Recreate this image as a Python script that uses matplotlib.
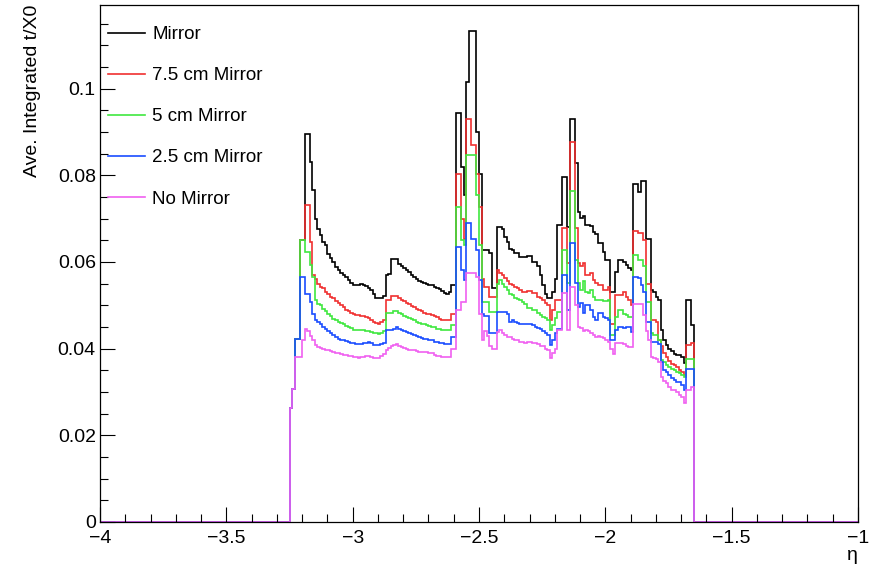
import numpy as np
import matplotlib
matplotlib.use("Agg")
import matplotlib.pyplot as plt
from matplotlib.lines import Line2D
from matplotlib.ticker import MultipleLocator, FuncFormatter

plt.rcParams['font.family'] = ['Liberation Sans', 'DejaVu Sans']

# eta binning of the histograms (all bins outside the filled range are empty)
eta_min, eta_max, bin_width = -4.0, -1.0, 0.01
filled_from = -3.25

labels = ["Mirror", "7.5 cm Mirror", "5 cm Mirror", "2.5 cm Mirror", "No Mirror"]
colors = ["#000000", "#f03030", "#3fe83f", "#1a4dff", "#f060f0"]

# average integrated t/X0 per bin, from eta = -3.25 to -1.65
mirror = [
    .0262, .0308, .0423, .0423, .0650, .0650, .0896, .0896, .0831, .0766,
    .0700, .0677, .0662, .0645, .0639, .0619, .0610, .0600, .0589, .0581,
    .0575, .0570, .0566, .0558, .0552, .0548, .0546, .0546, .0550, .0548,
    .0544, .0540, .0536, .0527, .0518, .0516, .0517, .0521, .0569, .0572,
    .0606, .0606, .0606, .0595, .0590, .0585, .0581, .0576, .0571, .0566,
    .0561, .0557, .0554, .0552, .0550, .0548, .0546, .0542, .0540, .0537,
    .0532, .0529, .0527, .0530, .0547, .0547, .0944, .0944, .0820, .0754,
    .1016, .1133, .1133, .1133, .0900, .0804, .0627, .0627, .0627, .0620,
    .0539, .0539, .0681, .0681, .0677, .0658, .0646, .0631, .0627, .0620,
    .0620, .0612, .0612, .0612, .0613, .0613, .0601, .0601, .0590, .0570,
    .0547, .0525, .0516, .0516, .0530, .0560, .0686, .0686, .0797, .0797,
    .0680, .0929, .0929, .0828, .0716, .0701, .0705, .0686, .0686, .0682,
    .0670, .0665, .0643, .0643, .0624, .0604, .0604, .0530, .0530, .0577,
    .0604, .0604, .0600, .0592, .0585, .0581, .0780, .0780, .0762, .0787,
    .0787, .0654, .0654, .0535, .0531, .0520, .0512, .0443, .0420, .0408,
    .0400, .0395, .0388, .0385, .0385, .0380, .0366, .0512, .0512, .0454,
]
mirror_75 = [
    .0262, .0308, .0423, .0423, .0650, .0650, .0731, .0731, .0646, .0569,
    .0560, .0550, .0543, .0539, .0530, .0527, .0520, .0516, .0510, .0505,
    .0500, .0495, .0490, .0487, .0483, .0480, .0478, .0477, .0476, .0475,
    .0473, .0471, .0466, .0462, .0459, .0458, .0461, .0466, .0512, .0512,
    .0521, .0521, .0521, .0516, .0513, .0509, .0506, .0502, .0499, .0496,
    .0492, .0489, .0486, .0483, .0480, .0479, .0477, .0475, .0472, .0469,
    .0467, .0466, .0466, .0466, .0481, .0481, .0804, .0804, .0700, .0654,
    .0931, .0931, .0870, .0870, .0804, .0727, .0560, .0543, .0543, .0520,
    .0520, .0520, .0581, .0575, .0570, .0562, .0556, .0550, .0547, .0542,
    .0539, .0535, .0531, .0531, .0532, .0532, .0528, .0528, .0520, .0518,
    .0513, .0505, .0501, .0466, .0490, .0513, .0513, .0513, .0678, .0678,
    .0597, .0878, .0878, .0678, .0597, .0590, .0597, .0570, .0570, .0574,
    .0558, .0551, .0547, .0547, .0536, .0536, .0543, .0458, .0458, .0524,
    .0524, .0524, .0531, .0520, .0512, .0500, .0672, .0672, .0666, .0666,
    .0650, .0550, .0550, .0466, .0466, .0462, .0420, .0405, .0390, .0380,
    .0372, .0365, .0362, .0358, .0350, .0346, .0340, .0408, .0408, .0412,
]
mirror_5 = [
    .0262, .0308, .0423, .0423, .0650, .0650, .0623, .0623, .0592, .0566,
    .0512, .0504, .0500, .0492, .0487, .0481, .0475, .0469, .0466, .0462,
    .0460, .0458, .0452, .0450, .0447, .0444, .0443, .0442, .0443, .0444,
    .0441, .0440, .0438, .0436, .0435, .0433, .0437, .0441, .0483, .0483,
    .0483, .0486, .0486, .0483, .0479, .0476, .0473, .0471, .0469, .0466,
    .0462, .0459, .0457, .0456, .0454, .0452, .0451, .0449, .0446, .0445,
    .0443, .0442, .0442, .0442, .0454, .0454, .0727, .0727, .0650, .0640,
    .0847, .0847, .0847, .0847, .0754, .0640, .0508, .0508, .0508, .0485,
    .0485, .0485, .0550, .0558, .0550, .0542, .0535, .0527, .0523, .0518,
    .0515, .0512, .0508, .0504, .0494, .0494, .0490, .0489, .0482, .0478,
    .0474, .0470, .0466, .0443, .0455, .0470, .0485, .0485, .0628, .0628,
    .0551, .0763, .0763, .0605, .0551, .0536, .0555, .0530, .0528, .0535,
    .0520, .0513, .0513, .0513, .0509, .0509, .0512, .0431, .0431, .0474,
    .0489, .0489, .0481, .0478, .0474, .0474, .0616, .0616, .0604, .0604,
    .0590, .0508, .0508, .0435, .0431, .0431, .0420, .0373, .0370, .0362,
    .0358, .0354, .0350, .0347, .0343, .0340, .0335, .0377, .0377, .0377,
]
mirror_25 = [
    .0262, .0308, .0423, .0423, .0566, .0566, .0527, .0527, .0508, .0481,
    .0467, .0462, .0458, .0450, .0445, .0440, .0435, .0431, .0428, .0423,
    .0421, .0420, .0418, .0416, .0414, .0412, .0411, .0410, .0411, .0412,
    .0414, .0416, .0412, .0409, .0408, .0408, .0411, .0414, .0442, .0444,
    .0444, .0446, .0449, .0446, .0444, .0440, .0438, .0435, .0433, .0431,
    .0429, .0426, .0425, .0423, .0422, .0420, .0419, .0416, .0415, .0413,
    .0412, .0410, .0410, .0410, .0427, .0427, .0635, .0635, .0581, .0558,
    .0689, .0689, .0654, .0654, .0627, .0558, .0481, .0475, .0475, .0435,
    .0435, .0435, .0485, .0485, .0485, .0485, .0480, .0462, .0465, .0462,
    .0460, .0458, .0458, .0456, .0458, .0458, .0455, .0451, .0448, .0445,
    .0441, .0435, .0432, .0409, .0420, .0435, .0445, .0445, .0570, .0570,
    .0489, .0643, .0643, .0551, .0497, .0505, .0482, .0500, .0500, .0490,
    .0474, .0466, .0482, .0482, .0474, .0470, .0466, .0420, .0420, .0443,
    .0450, .0450, .0447, .0450, .0450, .0439, .0566, .0566, .0562, .0547,
    .0530, .0462, .0462, .0416, .0416, .0416, .0410, .0370, .0350, .0345,
    .0340, .0332, .0328, .0324, .0322, .0315, .0304, .0354, .0354, .0354,
]
no_mirror = [
    .0262, .0308, .0381, .0381, .0381, .0419, .0446, .0441, .0430, .0419,
    .0408, .0404, .0402, .0400, .0397, .0396, .0394, .0393, .0390, .0389,
    .0387, .0386, .0385, .0384, .0382, .0381, .0380, .0379, .0380, .0381,
    .0382, .0382, .0380, .0379, .0379, .0379, .0384, .0387, .0398, .0402,
    .0406, .0408, .0410, .0407, .0404, .0402, .0399, .0398, .0396, .0396,
    .0395, .0393, .0393, .0393, .0393, .0391, .0389, .0386, .0383, .0382,
    .0381, .0381, .0381, .0381, .0400, .0400, .0489, .0489, .0508, .0508,
    .0574, .0574, .0574, .0574, .0566, .0481, .0420, .0440, .0430, .0405,
    .0400, .0400, .0439, .0442, .0435, .0431, .0428, .0426, .0423, .0420,
    .0419, .0416, .0415, .0414, .0416, .0416, .0414, .0412, .0410, .0407,
    .0405, .0400, .0397, .0378, .0390, .0400, .0443, .0443, .0528, .0528,
    .0443, .0543, .0543, .0500, .0451, .0447, .0440, .0443, .0440, .0436,
    .0432, .0428, .0430, .0428, .0424, .0420, .0416, .0400, .0388, .0414,
    .0414, .0414, .0410, .0405, .0404, .0404, .0504, .0504, .0504, .0504,
    .0477, .0440, .0420, .0381, .0378, .0375, .0370, .0335, .0326, .0320,
    .0312, .0304, .0304, .0300, .0292, .0289, .0274, .0304, .0304, .0312,
]
series = [mirror, mirror_75, mirror_5, mirror_25, no_mirror]

n_bins = int(round((eta_max - eta_min) / bin_width))
edges = np.linspace(eta_min, eta_max, n_bins + 1)
first = int(round((filled_from - eta_min) / bin_width))


def full_hist(vals):
    h = np.zeros(n_bins)
    h[first:first + len(vals)] = vals
    return h


fig, ax = plt.subplots(figsize=(8.76, 5.68), dpi=100)
fig.subplots_adjust(left=100 / 876, right=858 / 876, bottom=46 / 568, top=563 / 568)

for vals, col in zip(series, colors):
    ax.stairs(full_hist(vals), edges, color=col, lw=1.2, baseline=None)

ax.set_xlim(eta_min, eta_max)
ax.set_ylim(0, 0.1193)

ax.xaxis.set_major_locator(MultipleLocator(0.5))
ax.xaxis.set_minor_locator(MultipleLocator(0.1))
ax.yaxis.set_major_locator(MultipleLocator(0.02))
ax.yaxis.set_minor_locator(MultipleLocator(0.005))
ax.xaxis.set_major_formatter(FuncFormatter(lambda v, p: ("%g" % v).replace("-", "\u2212")))
ax.yaxis.set_major_formatter(FuncFormatter(lambda v, p: "0" if abs(v) < 1e-9 else "%g" % round(v, 4)))

ax.tick_params(which='both', direction='in', top=False, right=False, width=0.8)
ax.tick_params(which='major', length=11, labelsize=14)
ax.tick_params(which='minor', length=5.5)
ax.tick_params(axis='x', pad=6)
ax.tick_params(axis='y', pad=3)
for s in ax.spines.values():
    s.set_linewidth(0.9)

ax.set_ylabel("Ave. Integrated t/X0", loc='top', fontsize=14, labelpad=12)
ax.set_xlabel("\u03b7", loc='right', fontsize=14, labelpad=0)

handles = [Line2D([], [], color=c, lw=1.2) for c in colors]
ax.legend(handles, labels, loc='upper left', bbox_to_anchor=(8 / 758, 1 - 21 / 517),
          frameon=False, fontsize=13.5, handlelength=1.95, handletextpad=0.4,
          labelspacing=1.28, borderpad=0, borderaxespad=0)

fig.savefig("out.png", dpi=100, facecolor="white")
